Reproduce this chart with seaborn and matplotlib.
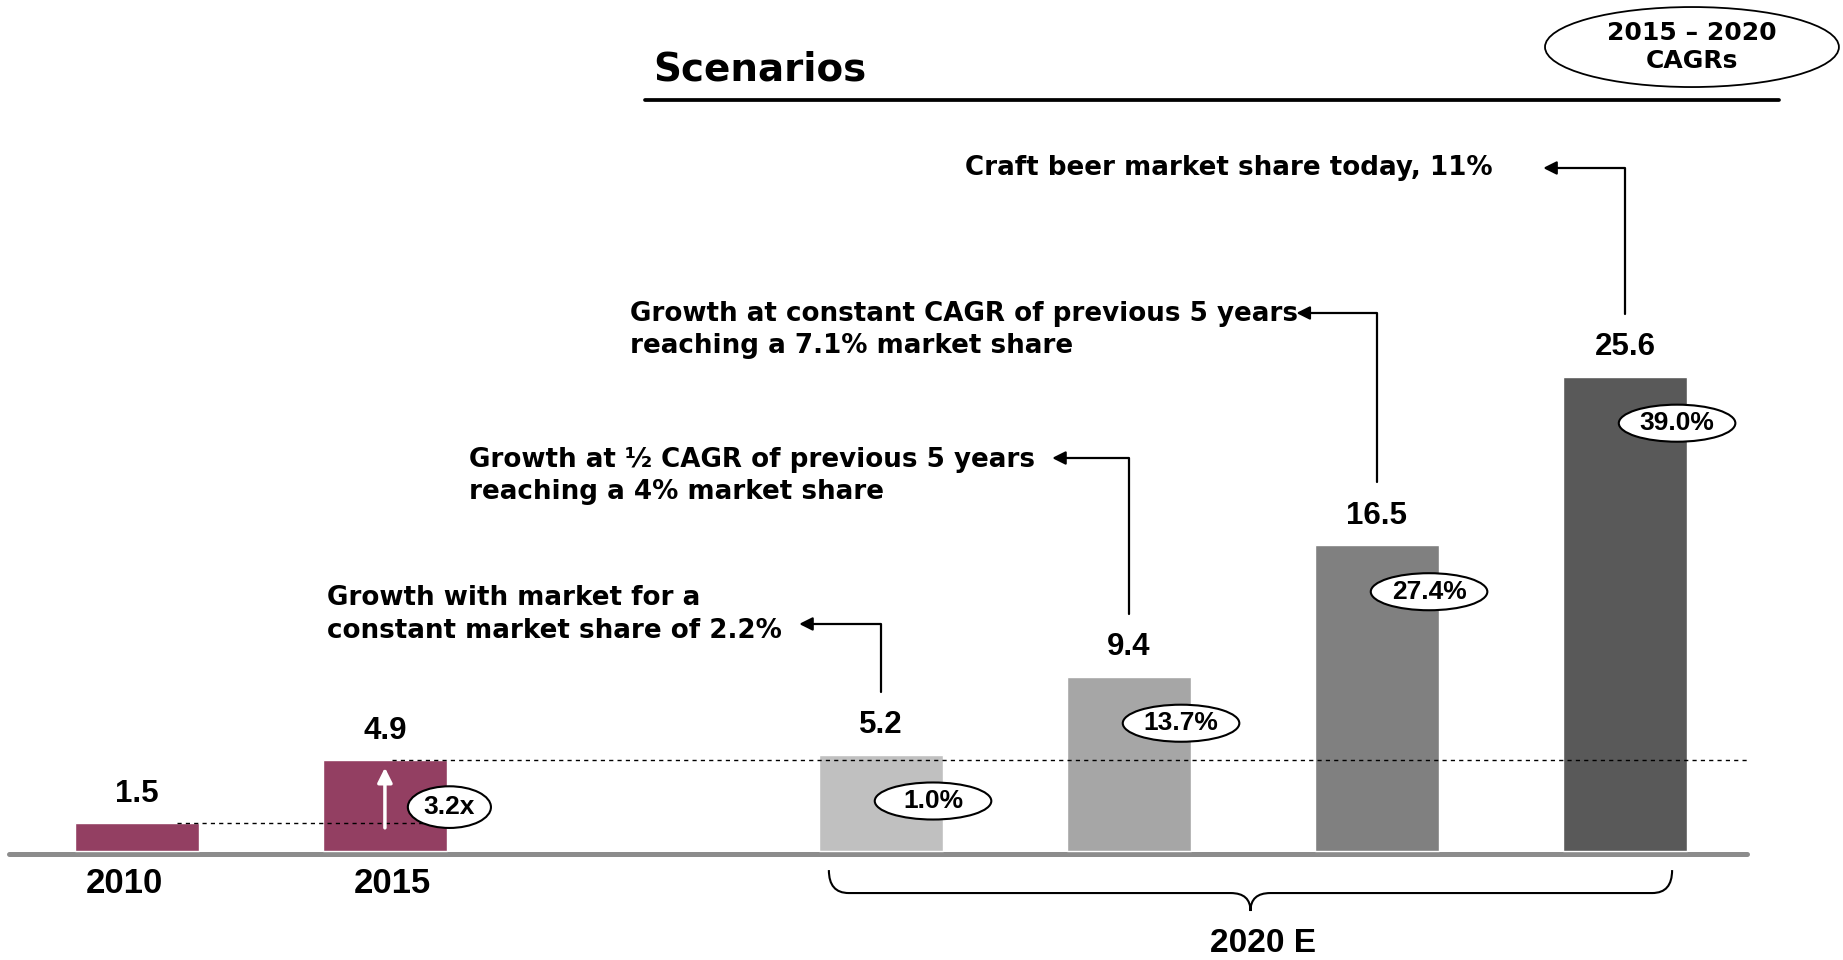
import numpy as np
import pandas as pd
import matplotlib
matplotlib.use("Agg")
import matplotlib.pyplot as plt
from matplotlib.path import Path
from matplotlib.patches import PathPatch, Ellipse
import seaborn as sns

# ── Data ──────────────────────────────────────────────────────────────────────
bars     = ["2010", "2015", "Market", "Half CAGR", "Const CAGR", "Share 11%"]
values   = [1.5, 4.9, 5.2, 9.4, 16.5, 25.6]
colors   = ["#933F62", "#933F62", "#C0C0C0", "#A6A6A6", "#808080", "#595959"]
order    = ["2010", "2015", "", "Market", "Half CAGR", "Const CAGR", "Share 11%"]
years    = ["2010", "2015"]
scenarios = ["Market", "Half CAGR", "Const CAGR", "Share 11%"]
cagrs    = ["1.0%", "13.7%", "27.4%", "39.0%"]
growth   = "3.2x"
notes    = ["Growth with market for a\nconstant market share of 2.2%",
            "Growth at \u00bd CAGR of previous 5 years\nreaching a 4% market share",
            "Growth at constant CAGR of previous 5 years\nreaching a 7.1% market share",
            "Craft beer market share today, 11%"]

# ── Style ─────────────────────────────────────────────────────────────────────
sns.set_theme(style="white")
plt.rcParams["text.color"] = "black"
NUM  = dict(family=["Liberation Sans", "DejaVu Sans"], weight="bold", color="black")
TXT  = dict(family=["DejaVu Sans"], weight="bold", color="black")

df = pd.DataFrame({"bar": bars, "value": values})

fig = plt.figure(figsize=(18.43, 9.6), dpi=100)
ax = fig.add_axes([0, 0, 1, 1])
sns.barplot(data=df, x="bar", y="value", hue="bar", order=order,
            palette=dict(zip(bars, colors)), width=0.5, saturation=1,
            errorbar=None, legend=False, ax=ax, zorder=2)
ax.set_xlim(-0.552, 6.879)
ax.set_ylim(-5.885, 45.95)
ax.axis("off")

pos = {b: order.index(b) for b in bars}

# baseline
ax.axhline(-0.15, xmin=0.005, xmax=0.948, color="#8C8C8C", lw=3.6, zorder=1)

# value labels
for b, v in zip(bars, values):
    ax.text(pos[b], v + 1.6, f"{v:.1f}", ha="center", va="center", fontsize=22.5, **NUM)

# year labels
for y, dx in zip(years, [-0.05, 0.03]):
    ax.text(pos[y] + dx, -1.78, y, ha="center", va="center", fontsize=25, **NUM)

# dashed reference lines
ax.plot([pos["2010"] + 0.16, pos["2015"] + 0.2], [values[0]] * 2, ls=(0, (3, 3)),
        color="black", lw=1, zorder=3)
ax.plot([pos["2015"] + 0.03, pos["Share 11%"] + 0.5], [values[1]] * 2, ls=(0, (3, 3)),
        color="black", lw=1, zorder=3)

# white growth arrow in 2015 bar + 3.2x bubble
ax.annotate("", xy=(pos["2015"], 4.5), xytext=(pos["2015"], 1.25),
            arrowprops=dict(arrowstyle="-|>", color="white", lw=2.5,
                            mutation_scale=22, shrinkA=0, shrinkB=0), zorder=4)
gx, gy = pos["2015"] + 0.26, 2.37
ax.add_patch(Ellipse((gx, gy), 0.335, 2.25, fc="white", ec="black", lw=1.5, zorder=5))
ax.text(gx, gy, growth, ha="center", va="center", fontsize=19, zorder=6, **NUM)

# CAGR bubbles
for s, c in zip(scenarios, cagrs):
    v = values[bars.index(s)]
    cx, cy = pos[s] + 0.21, v - 2.5
    ax.add_patch(Ellipse((cx, cy), 0.47, 2.0, fc="white", ec="black", lw=1.5, zorder=5))
    ax.text(cx, cy, c, ha="center", va="center", fontsize=19, zorder=6, **NUM)

# scenario notes with elbow arrows
note_xy   = [(0.767, 12.77, "left"), (1.34, 20.25, "left"),
             (1.988, 28.13, "left"), (5.468, 36.88, "right")]
arrow_tip = [(2.67, 12.26), (3.69, 21.22), (4.675, 29.05), (5.67, 36.88)]
for s, txt, (tx, ty, ha), (ax_, ay) in zip(scenarios, notes, note_xy, arrow_tip):
    v = values[bars.index(s)]
    ax.text(tx, ty, txt, ha=ha, va="center", fontsize=18.8, linespacing=1.32, **TXT)
    ax.annotate("", xy=(ax_, ay), xytext=(pos[s], v + 3.4),
                arrowprops=dict(arrowstyle="-|>", color="black", lw=1.6,
                                mutation_scale=20, shrinkA=0, shrinkB=0,
                                connectionstyle="angle,angleA=90,angleB=0,rad=0"))

# title + underline
ax.text(2.08, 42.22, "Scenarios", ha="left", va="center", fontsize=28, **TXT)
ax.plot([2.05, 6.62], [40.55, 40.55], color="black", lw=2.7)

# CAGR header bubble
ax.add_patch(Ellipse((6.27, 43.41), 1.185, 4.32, fc="white", ec="black", lw=1.3))
ax.text(6.27, 43.41, "2015 \u2013 2020\nCAGRs", ha="center", va="center",
        fontsize=18, linespacing=1.2, **TXT)

# brace under 2020 scenarios
L, R = pos["Market"] - 0.21, pos["Share 11%"] + 0.19
M = (L + R) / 2
top, mid, tip, rx = -1.03, -2.27, -3.24, 0.08
verts = [(L, top), (L, mid), (L + rx, mid), (M - rx, mid), (M, mid), (M, tip),
         (M, mid), (M + rx, mid), (R - rx, mid), (R, mid), (R, top)]
codes = [Path.MOVETO, Path.CURVE3, Path.CURVE3, Path.LINETO, Path.CURVE3, Path.CURVE3,
         Path.CURVE3, Path.CURVE3, Path.LINETO, Path.CURVE3, Path.CURVE3]
ax.add_patch(PathPatch(Path(verts, codes), fc="none", ec="black", lw=1.5))
ax.text(M + 0.05, -5.02, "2020 E", ha="center", va="center", fontsize=24, **NUM)

fig.savefig("out.png", dpi=100, facecolor="white")
